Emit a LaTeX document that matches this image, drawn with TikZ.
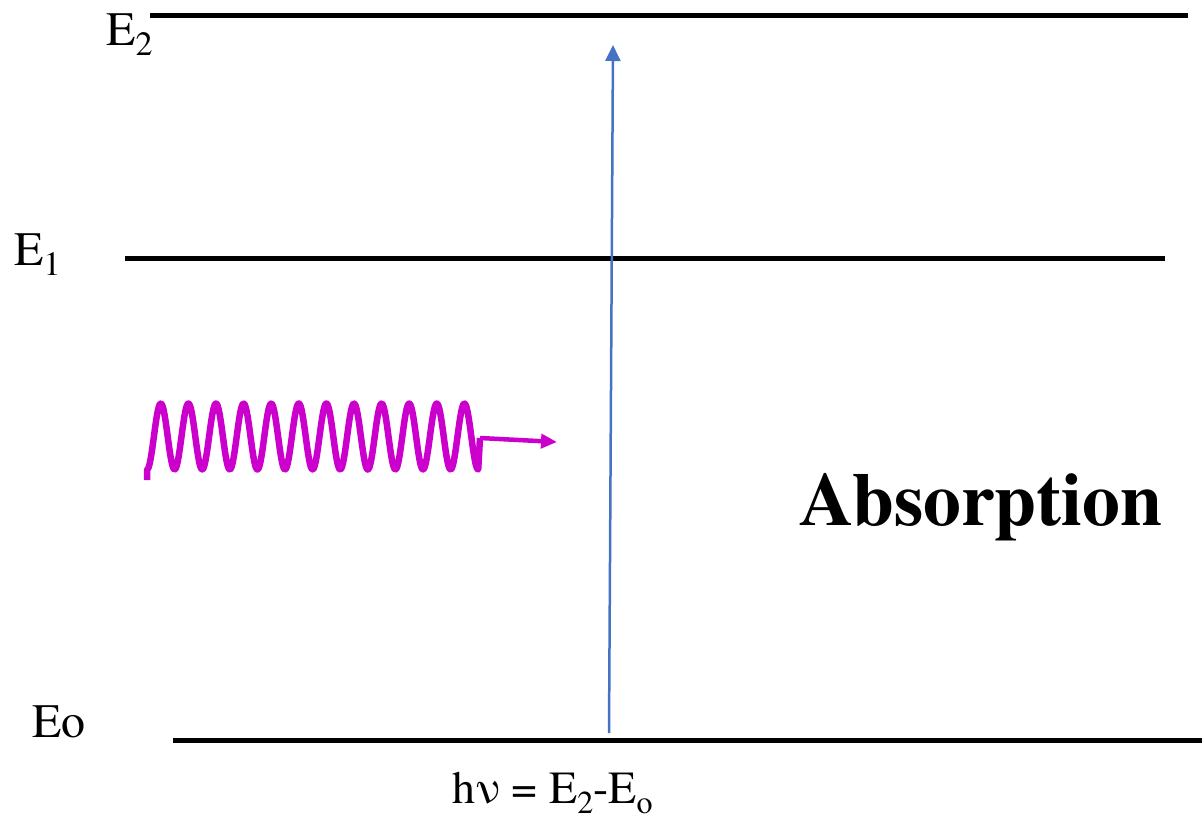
\documentclass[tikz,border=0pt]{standalone}
\usepackage{fontspec}
\newfontfamily\tms{texgyretermes}[Extension=.otf, UprightFont=*-regular, BoldFont=*-bold]
\usetikzlibrary{arrows.meta}
\definecolor{wavec}{HTML}{CC00CC}
\definecolor{bluec}{HTML}{4472C4}
\newcommand{\lvlsub}[2][34]{\raisebox{-10pt}{\fontsize{#1}{#1}\selectfont #2}}
\tikzset{
  level/.style={line width=5pt},
  lbl/.style={anchor=base west, inner sep=0pt, font=\tms\fontsize{48}{48}\selectfont},
  wave/.style={wavec, line width=6.5pt, line join=round},
}
\begin{document}
\begin{tikzpicture}[x=1pt,y=-1pt]
\useasboundingbox (0,0) rectangle (1202,819);
% levels
\coordinate (e2a) at (150,15);  \coordinate (e2b) at (1188,15);
\coordinate (e1a) at (125,258); \coordinate (e1b) at (1165,258);
\coordinate (e0a) at (173,740); \coordinate (e0b) at (1202,740);
\draw[level] (e2a) -- (e2b);
\draw[level] (e1a) -- (e1b);
\draw[level] (e0a) -- (e0b);
% labels
\node[lbl] (l2) at (106,45) {E\lvlsub{2}};
\node[lbl] (l1) at (14,265) {E\lvlsub{1}};
\node[lbl] (l0) at (32,737) {Eo};
\node[anchor=base west, inner sep=0pt, font=\tms\fontsize{46}{46}\selectfont] (eq) at (452,803) {hν = E\lvlsub[32]{2}-E\lvlsub[32]{o}};
\node[anchor=base west, inner sep=0pt, font=\tms\fontsize{75.5}{75.5}\selectfont\bfseries] (abs) at (799,525) {Absorption};
% transition arrow
\coordinate (ta) at (609,733);
\coordinate (tb) at (613,45);
\draw[bluec, line width=2.5pt, -{Triangle[length=16pt,width=15pt]}] (ta) -- (tb);
% photon
\coordinate (ws) at (147,470);
\coordinate (wk) at (480,438);
\coordinate (wt) at (557,442);
\draw[wave] (147,480) -- (ws) -- plot[domain=0:12, samples=400, variable=\t] ({147+27.6*\t}, {436.5+33*cos(360*\t)}) -- (wk);
\draw[wave, line width=4.5pt, -{Triangle[length=16pt,width=14pt]}] (wk) -- (wt);
\end{tikzpicture}
\end{document}
